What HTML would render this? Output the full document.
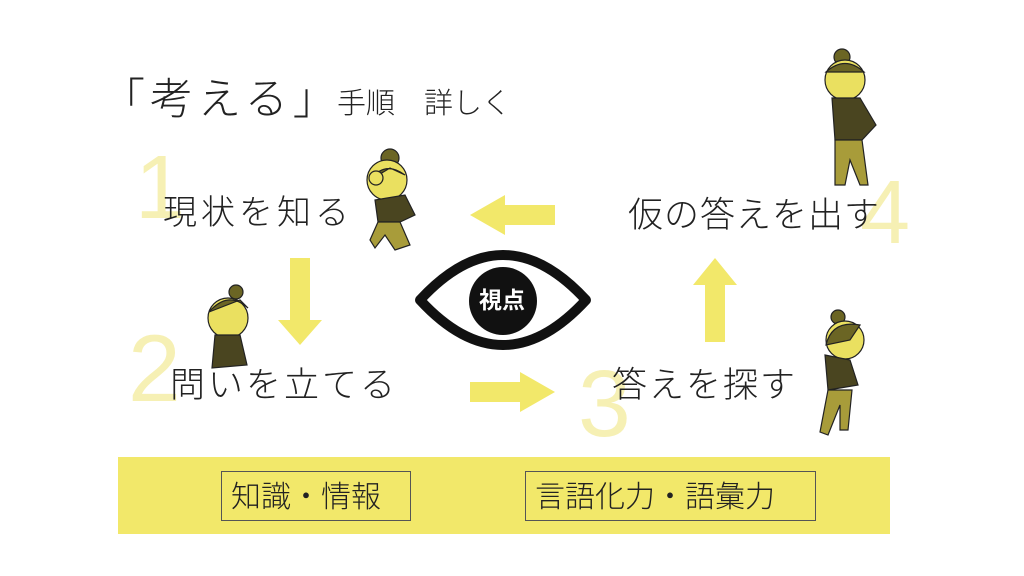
<!DOCTYPE html>
<html><head><meta charset="utf-8"><style>
body{margin:0;width:1024px;height:576px;background:#fff;position:relative;overflow:hidden;font-family:"Liberation Sans","Noto Sans CJK JP",sans-serif;color:#222}
.t{position:absolute;white-space:nowrap;font-weight:300;line-height:1}
.n{position:absolute;color:#f6f0b4;font-weight:700;line-height:1;font-family:"Liberation Sans",sans-serif}
</style></head><body>
<svg width="1024" height="576" style="position:absolute;left:0;top:0">
<g fill="#f2e86a">
<polygon points="470,215 505,195 505,205 555,205 555,225 505,225 505,235"/>
<polygon points="290,258 310,258 310,320 322,320 300,345 278,320 290,320"/>
<polygon points="470,382 520,382 520,372 555,392 520,412 520,402 470,402"/>
<polygon points="705,342 725,342 725,285 737,285 715,258 693,285 705,285"/>
<rect x="118" y="457" width="772" height="77"/>
</g>
<rect x="221.5" y="471.5" width="189" height="49" fill="none" stroke="#555" stroke-width="1"/>
<rect x="525.5" y="471.5" width="290" height="49" fill="none" stroke="#555" stroke-width="1"/>
<path d="M420,300 Q503,210 586,300 Q503,390 420,300 Z" fill="none" stroke="#111" stroke-width="10" stroke-linejoin="round"/>
<ellipse cx="503" cy="301" rx="34" ry="34" fill="#111"/>
<g stroke="#222" stroke-width="1.2">
<circle cx="390" cy="158" r="9" fill="#6b6524"/><circle cx="387" cy="180" r="20" fill="#eae060"/>
<path d="M370,180 Q385,160 405,175 L390,168Z" fill="#6b6524"/>
<circle cx="376" cy="178" r="7" fill="#eae060"/>
<path d="M375,200 L405,195 L415,215 L400,222 L378,222Z" fill="#4a4520"/>
<path d="M378,222 L400,222 L410,245 L395,250 L385,235 L375,248 L370,240Z" fill="#a89c3a"/>
<circle cx="236" cy="292" r="7" fill="#6b6524"/><circle cx="228" cy="318" r="20" fill="#eae060"/>
<path d="M209,312 Q228,290 248,308 L240,300Z" fill="#6b6524"/>
<path d="M215,335 L240,335 L247,365 L212,368Z" fill="#4a4520"/>
<circle cx="842" cy="57" r="8" fill="#6b6524"/><circle cx="845" cy="80" r="20" fill="#eae060"/>
<path d="M826,72 Q845,55 864,72Z" fill="#6b6524"/>
<path d="M832,98 L860,98 L876,125 L862,140 L835,140Z" fill="#4a4520"/>
<path d="M835,140 L862,140 L868,185 L860,185 L850,160 L845,185 L835,185Z" fill="#a89c3a"/>
<circle cx="838" cy="317" r="7" fill="#6b6524"/><circle cx="845" cy="340" r="19" fill="#eae060"/>
<path d="M826,345 Q832,320 860,325 L850,340Z" fill="#6b6524"/>
<path d="M825,355 L850,360 L858,385 L828,390Z" fill="#4a4520"/>
<path d="M828,390 L852,390 L848,430 L840,430 L840,405 L828,435 L820,432Z" fill="#a89c3a"/>
</g>
</svg>
<div class="t" style="left:102px;top:79px;font-size:43px;letter-spacing:5px">「考える」</div>
<div class="t" style="left:337px;top:90px;font-size:29px">手順　詳しく</div>
<div class="n" style="left:135px;top:143px;font-size:90px;font-weight:400">1</div>
<div class="t" style="left:163px;top:196px;font-size:34px;letter-spacing:4px">現状を知る</div>
<div class="n" style="left:128px;top:322px;font-size:95px;font-weight:400">2</div>
<div class="t" style="left:170px;top:368px;font-size:35px;letter-spacing:3px">問いを立てる</div>
<div class="n" style="left:578px;top:357px;font-size:95px;font-weight:400">3</div>
<div class="t" style="left:612px;top:368px;font-size:35px;letter-spacing:2px">答えを探す</div>
<div class="n" style="left:860px;top:168px;font-size:90px;font-weight:400">4</div>
<div class="t" style="left:628px;top:198px;font-size:35px;letter-spacing:1px">仮の答えを出す</div>
<div class="t" style="left:479px;top:289px;font-size:23px;color:#fff;font-weight:700">視点</div>
<div class="t" style="left:231px;top:483px;font-size:30px">知識・情報</div>
<div class="t" style="left:535px;top:483px;font-size:30px">言語化力・語彙力</div>
</body></html>
